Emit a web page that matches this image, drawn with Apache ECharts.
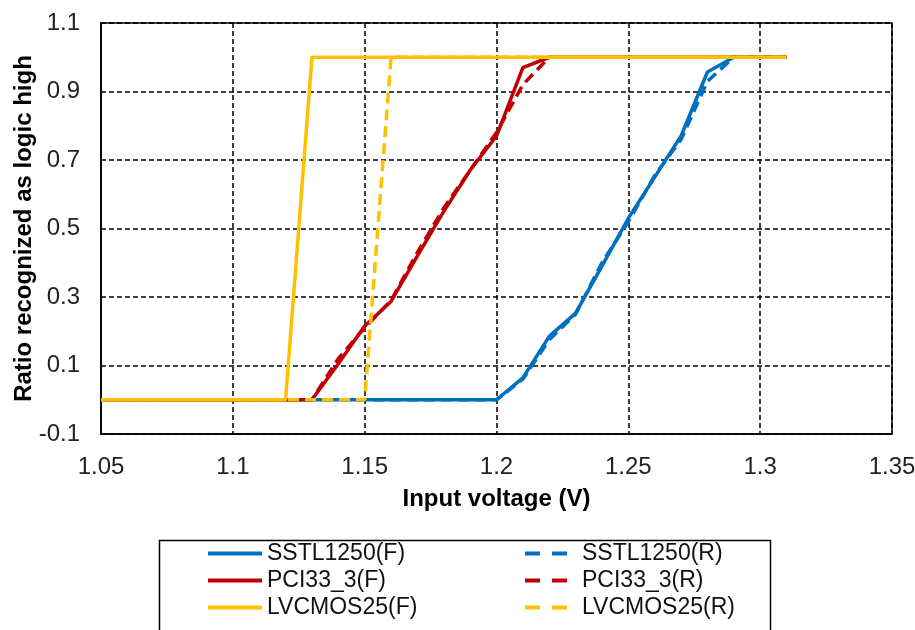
<!DOCTYPE html>
<html>
<head>
<meta charset="utf-8">
<script src="https://cdn.jsdelivr.net/npm/echarts@6/dist/echarts.min.js"></script>
<style>
    html, body { margin: 0; padding: 0; background: #fff; }
    #chartBox { width: 915px; height: 630px; }
</style>
</head>
<body>
<div id="chartBox"></div>
<script>
// input voltage (V) / ratio recognized as logic high
var sstlF = [[1.05, 0], [1.2, 0], [1.21, 0.064], [1.22, 0.185], [1.23, 0.253], [1.24, 0.39], [1.25, 0.53], [1.26, 0.65], [1.27, 0.77], [1.28, 0.957], [1.29, 1], [1.31, 1]];
var sstlR = [[1.05, 0], [1.2, 0], [1.21, 0.06], [1.22, 0.175], [1.23, 0.25], [1.24, 0.40], [1.25, 0.52], [1.26, 0.655], [1.27, 0.76], [1.28, 0.93], [1.29, 1], [1.31, 1]];
var pciF = [[1.05, 0], [1.13, 0], [1.14, 0.105], [1.15, 0.215], [1.16, 0.287], [1.17, 0.42], [1.18, 0.55], [1.19, 0.67], [1.2, 0.77], [1.21, 0.97], [1.22, 1], [1.31, 1]];
var pciR = [[1.05, 0], [1.13, 0], [1.14, 0.12], [1.15, 0.21], [1.16, 0.29], [1.17, 0.43], [1.18, 0.56], [1.19, 0.67], [1.2, 0.78], [1.21, 0.92], [1.22, 1], [1.31, 1]];
var lvcmosF = [[1.05, 0], [1.12, 0], [1.13, 1], [1.31, 1]];
var lvcmosR = [[1.05, 0], [1.15, 0], [1.16, 1], [1.31, 1]];

var namesF = ['SSTL1250(F)', 'PCI33_3(F)', 'LVCMOS25(F)'];
var namesR = ['SSTL1250(R)', 'PCI33_3(R)', 'LVCMOS25(R)'];
var colors = ['#0070C0', '#C00000', '#FFC000'];

var fontName = 'Liberation Sans, Arial, sans-serif';

function makeLine(name, data, color, dashed) {
    return {
        name: name,
        type: 'line',
        symbol: 'none',
        data: data,
        color: color,
        lineStyle: {
            width: 3.5,
            color: color,
            type: dashed ? [11, 6] : 'solid'
        },
        animation: false
    };
}

var seriesList = [
    makeLine(namesF[0], sstlF, colors[0], false),
    makeLine(namesR[0], sstlR, colors[0], true),
    makeLine(namesF[1], pciF, colors[1], false),
    makeLine(namesR[1], pciR, colors[1], true),
    makeLine(namesF[2], lvcmosF, colors[2], false),
    makeLine(namesR[2], lvcmosR, colors[2], true)
];

var gridDash = {
    show: true,
    lineStyle: { color: '#000', width: 1.5, type: [5, 3] }
};

var option = {
    textStyle: { fontFamily: fontName },
    grid: {
        left: 101,
        right: 23,
        top: 23,
        bottom: 196,
        containLabel: false,
        outerBoundsMode: 'none',
        show: true,
        borderColor: '#000',
        borderWidth: 1.5
    },
    xAxis: {
        type: 'value',
        min: 1.05,
        max: 1.35,
        interval: 0.05,
        name: 'Input voltage (V)',
        nameLocation: 'middle',
        nameGap: 53,
        nameTextStyle: { fontSize: 24, fontWeight: 'bold', color: '#000', fontFamily: fontName },
        axisLine: { onZero: false, lineStyle: { color: '#000', width: 1.5 } },
        axisTick: { show: false },
        axisLabel: {
            fontSize: 24,
            color: '#222',
            margin: 21,
            fontFamily: fontName,
            formatter: function (v) { return String(parseFloat(v.toFixed(2))); }
        },
        splitLine: gridDash
    },
    yAxis: {
        type: 'value',
        min: -0.1,
        max: 1.1,
        interval: 0.2,
        name: 'Ratio recognized as logic high',
        nameLocation: 'middle',
        nameGap: 65,
        nameMoveOverlap: false,
        nameTextStyle: { fontSize: 24, fontWeight: 'bold', color: '#000', fontFamily: fontName },
        axisLine: { show: true, onZero: false, lineStyle: { color: '#000', width: 1.5 } },
        axisTick: { show: false },
        axisLabel: {
            fontSize: 24,
            color: '#222',
            margin: 21,
            fontFamily: fontName,
            formatter: function (v) { return v.toFixed(1); }
        },
        splitLine: gridDash
    },
    legend: [
        {
            orient: 'vertical',
            left: 208,
            top: 542,
            height: 140,
            padding: 0,
            data: namesF,
            icon: 'rect',
            itemWidth: 54,
            itemHeight: 4,
            itemGap: 4,
            itemStyle: { borderWidth: 0 },
            textStyle: { fontSize: 23, color: '#111', fontFamily: fontName }
        },
        {
            orient: 'vertical',
            left: 525,
            top: 542,
            height: 140,
            padding: 0,
            data: namesR,
            icon: 'path://M0,0H15V4H0Z M27,0H42V4H27Z',
            itemWidth: 42,
            itemHeight: 4,
            itemGap: 4,
            itemStyle: { borderWidth: 0 },
            textStyle: { fontSize: 23, color: '#111', fontFamily: fontName, padding: [0, 0, 0, 10] }
        }
    ],
    graphic: [
        {
            type: 'rect',
            left: 157,
            top: 538,
            shape: { width: 611, height: 120 },
            style: { fill: 'none', stroke: '#000', lineWidth: 1.5 },
            silent: true
        }
    ],
    series: seriesList
};

var myChart = echarts.init(document.getElementById('chartBox'));
myChart.setOption(option);
</script>
</body>
</html>
